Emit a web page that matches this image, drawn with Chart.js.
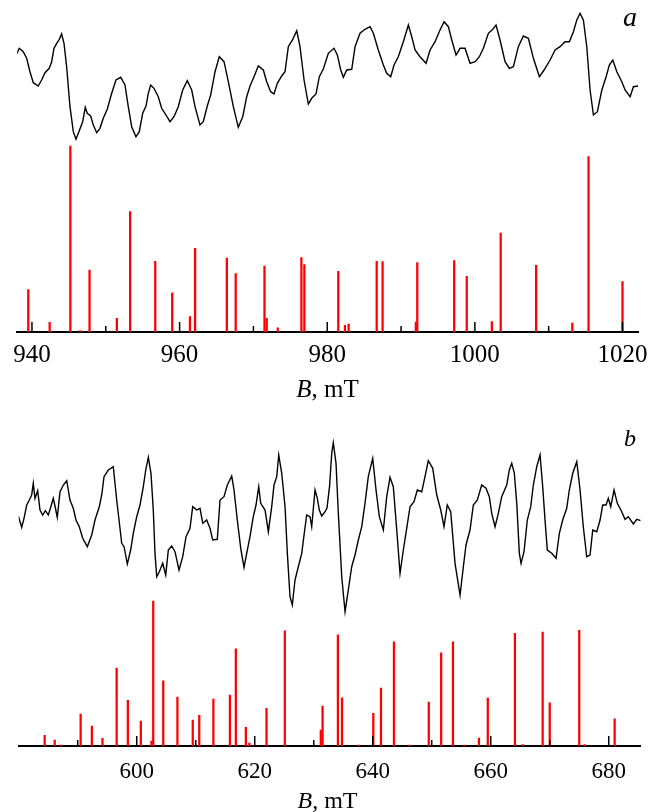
<!DOCTYPE html>
<html><head><meta charset="utf-8">
<script src="https://cdn.jsdelivr.net/npm/chart.js@4.4.1/dist/chart.umd.min.js"></script>
<style>
html,body{margin:0;padding:0;background:#fff;}
#wrap{position:relative;width:655px;height:812px;overflow:hidden;background:#fff;}
canvas{position:absolute;left:0;}
.lbl{position:absolute;font-family:'Liberation Serif','Times New Roman',serif;color:#000;white-space:nowrap;line-height:1;transform:translateX(-50%);}
</style></head><body>
<div id="wrap">
<canvas id="ca" width="655" height="400" style="top:0"></canvas>
<canvas id="cb" width="655" height="412" style="top:400px"></canvas>
<div class="lbl" style="left:630px;top:2.5px;font-size:28px;font-style:italic">a</div>
<div class="lbl" style="left:327.5px;top:375.8px;font-size:25px"><i>B</i>, mT</div>
<div class="lbl" style="left:630px;top:426px;font-size:24px;font-style:italic">b</div>
<div class="lbl" style="left:327.5px;top:788px;font-size:24px"><i>B</i>, mT</div>
</div>
<script>
// ---------- Panel a data ----------
const majorTicksA = [940, 960, 980, 1000, 1020];
const minorTicksA = [950, 970, 990, 1010];
const stickFieldA = [939.5,942.4,945.2,946.5,947.8,951.5,953.3,956.7,959.0,961.4,962.1,966.4,967.6,971.5,971.8,973.3,976.5,976.9,981.5,982.4,982.9,986.7,987.5,992.0,992.2,997.2,998.9,1002.3,1003.5,1008.3,1013.2,1015.4,1020.0];
const stickIntA = [22.8,5.2,100,0.7,33.3,7.4,64.7,38.0,21.0,8.3,45.0,39.8,31.4,35.5,7.4,2.2,40.0,36.2,32.6,3.6,4.3,38.0,37.8,5.4,37.3,38.4,29.9,5.6,53.2,35.9,4.8,94.3,27.1];
const specFieldA = [937.93,938.28,938.82,939.28,939.73,940.18,940.85,941.31,941.76,942.34,942.67,942.98,943.35,943.70,944.02,944.34,944.70,945.15,945.60,945.96,946.41,946.87,947.22,947.49,947.95,948.31,948.77,949.21,949.66,950.20,950.80,951.38,952.02,952.60,953.05,953.51,954.09,954.54,955.00,955.45,955.76,956.08,956.53,957.11,957.57,958.16,958.70,959.24,959.82,960.42,961.04,961.64,962.09,962.76,963.21,963.75,964.21,964.80,965.38,966.02,966.60,967.28,967.95,968.55,969.09,969.54,970.08,970.66,971.34,971.80,972.34,972.79,973.24,973.83,974.28,974.73,975.33,975.87,976.31,976.86,977.44,977.90,978.48,978.93,979.47,980.15,980.92,981.37,981.83,982.18,982.64,983.32,983.77,984.44,985.12,985.80,986.25,986.92,987.60,988.06,988.60,989.05,989.63,990.31,990.99,991.45,991.90,992.57,993.39,993.93,994.61,995.28,995.83,996.41,996.87,997.45,997.99,998.67,999.35,1000.03,1000.61,1001.15,1001.83,1002.43,1002.87,1003.41,1004.09,1004.67,1005.22,1005.89,1006.57,1007.25,1007.93,1008.74,1009.38,1010.19,1010.87,1011.54,1012.22,1012.80,1013.35,1013.81,1014.25,1014.70,1015.16,1015.61,1016.06,1016.60,1017.20,1017.78,1018.22,1018.69,1019.23,1019.91,1020.35,1021.03,1021.48,1022.15];
const specIntA = [26,31.7,28.3,21.7,8.3,-2.7,-6,0,7.3,11.7,18.3,31.7,36.7,40.7,46,36.7,13.3,-26.7,-51.7,-59.3,-50.7,-41.7,-27.3,-33.3,-36,-45,-52.7,-48.3,-38.3,-29.3,-13.3,0,2.7,-5,-26.7,-46.7,-56.7,-51.7,-33.3,-26,-13.3,-5,-8.3,-16.7,-28.3,-35,-41.7,-36.7,-26.7,-10,-0.7,-10,-26.7,-45,-41.7,-26,-15,8.3,23.3,18.3,-1.7,-26.7,-47.3,-36.7,-16.7,-6,3.3,14,10,-1.7,-11.7,-14,-3.3,4,8.3,33.3,40.7,49.3,33.3,0,-24,-18.3,-14,3.3,11,26.7,31.7,25,10,2.7,10,10.7,33.3,46.7,50.7,53.3,46.7,30,15,6.7,3.3,15,23.3,38.3,55,43.3,30,23.3,16.7,30,38.3,50,58.3,53.3,40,25,31.7,31.7,16.7,18.3,23.3,31.7,46.7,50.7,55,40,18.3,11.7,13.3,33.3,44,41.7,21.7,3.3,10,20,30,33.3,38.3,38.3,48.3,60,66.7,60,33.3,-10,-35,-31.7,-10,3.3,15,20,8.3,-1.7,-10,-16.7,-6.7,-6];

// ---------- Panel b data ----------
const majorTicksB = [600, 620, 640, 660, 680];
const minorTicksB = [590, 610, 630, 650, 670];
const stickFieldB = [584.4,586.1,587.2,590.5,592.4,594.2,596.6,598.5,600.7,602.5,602.8,604.5,606.9,609.5,610.6,613.0,615.8,616.8,618.5,619.1,622.0,625.1,631.2,631.5,634.1,634.8,637.6,640.1,641.4,643.6,646.2,649.5,651.6,653.6,655.5,658.0,659.5,664.1,665.4,668.8,670.0,675.0,675.9,681.0];
const stickIntB = [7.4,4.1,0.7,22.1,13.8,5.3,53.8,31.5,17.2,3.4,100,45.0,33.8,17.9,21.2,32.4,35.2,67.1,12.9,2.1,26.0,79.5,11.0,27.6,76.6,33.3,0.7,22.6,40.0,71.9,0.7,30.3,64.3,71.9,0.7,5.5,33.1,77.7,1.0,78.6,29.7,79.8,1.0,18.8];
const specFieldB = [579.93,580.51,580.90,581.36,581.80,582.20,582.47,582.76,583.22,583.61,584.07,584.51,585.02,585.42,585.86,586.15,586.54,587.00,587.56,588.14,588.69,589.25,589.71,590.27,590.85,591.63,592.37,592.93,593.66,594.07,594.46,595.19,596.03,596.61,597.46,597.85,598.41,598.98,599.42,600.00,600.56,601.12,601.53,601.97,602.42,602.81,603.10,603.39,603.83,604.41,604.92,605.36,605.93,606.49,607.17,607.80,608.36,609.03,609.49,610.17,610.73,611.19,611.86,612.42,612.88,613.66,614.12,614.80,615.36,616.10,616.49,617.05,617.63,618.19,618.75,619.20,619.76,620.22,620.68,621.02,621.75,622.31,622.88,623.27,623.73,624.07,624.58,625.14,625.53,625.98,626.37,626.83,627.39,627.97,628.36,628.81,629.37,629.66,630.22,630.61,630.95,631.36,631.92,632.25,632.68,633.05,633.32,633.78,634.17,634.75,635.31,635.86,636.44,637.00,637.56,638.14,638.69,639.25,640.00,640.56,641.12,641.80,642.37,642.93,643.49,644.07,644.63,645.19,645.76,646.32,647.00,647.56,648.31,648.86,649.42,650.17,650.85,651.53,652.08,652.64,653.22,653.95,654.80,655.36,655.81,656.49,657.05,657.73,658.47,659.20,659.76,660.17,660.73,661.29,661.86,662.71,663.15,663.56,664.00,664.41,664.85,665.14,665.64,666.20,666.78,667.22,667.80,668.36,668.81,669.20,669.59,670.34,671.07,671.63,672.20,672.88,673.32,673.90,674.58,675.14,675.69,676.27,676.83,677.29,677.97,678.53,678.98,679.54,679.93,680.34,680.90,681.46,682.20,682.76,683.32,684.17,684.75,685.42];
const specIntB = [11,-0.3,8.7,22,27,32,43.7,28.7,36.3,17,12,16.3,12,19.7,28.7,21,9.7,35.3,42,46.3,27,18.7,7,0.3,-11.3,-19.7,-8,7,20.3,32,50.3,57,60.3,27,-16.3,-19.7,-37,-23,-6.3,10.3,22,40.3,57,69.7,53.7,17,-26.3,-49.7,-44.7,-36.3,-48,-23,-19,-24.7,-43,-29.7,-9.7,-1.3,20.3,17,18.7,3.7,7,-1.3,-13,-12.3,27,30.3,42,51,37,7,-21.3,-40.3,-23,-9.7,10.3,22,40.3,23.7,17,-4.7,20.3,42,50.3,72,53.7,20.3,-26.3,-69.7,-78,-53,-39.7,-26.3,-8,12,10.3,0.3,37,28.7,17,11,15.3,19,40.3,73.7,84.3,63.7,13.7,-49.7,-84.7,-63,-39.7,-28,-13,0.3,23.7,50.3,68.7,37,10.3,-3,30.3,49.7,40.3,-3,-46.3,-23,-1.3,20.3,25.3,37,35.3,50.3,66.3,58.7,32,17,0.3,22,15.3,-36.3,-68,-39.7,-18,-3,22,27,42,38.7,30.3,13.7,0.3,13.7,30.3,42,57,63.7,53.7,23.7,-26.3,-36.3,-24.7,7,20.3,42,60.3,72,40.3,7,-23,-26.3,-31.3,-6.3,7,18.7,37,53.7,65.3,37,0.3,-29.7,-28,-3,-4.7,7,22,22,28.7,20.3,37,23.7,15.3,7.7,10.3,3,7.7,6.3];

function zip(xs, ys) {
  const n = Math.min(xs.length, ys.length), out = [];
  for (let i = 0; i < n; i++) out.push({x: xs[i], y: ys[i]});
  return out;
}

// tick marks drawn inward (upward) from the axis, positioned by the x scale
const innerTicks = {
  id: 'innerTicks',
  afterDraw(chart, args, opts) {
    const s = chart.scales.x, ctx = chart.ctx, y0 = chart.chartArea.bottom;
    ctx.save();
    ctx.strokeStyle = '#000';
    ctx.lineWidth = 1.5;
    const draw = (vals, len) => vals.forEach(v => {
      const x = s.getPixelForValue(v);
      ctx.beginPath(); ctx.moveTo(x, y0); ctx.lineTo(x, y0 - len); ctx.stroke();
    });
    draw(opts.major || [], 10);
    draw(opts.minor || [], 6);
    ctx.restore();
  }
};

function panel(id, p) {
  return new Chart(document.getElementById(id), {
    type: 'bar',
    data: { datasets: [
      { type: 'line', data: zip(p.specB, p.specI), yAxisID: 'y2', borderColor: '#000',
        borderWidth: 1.4, pointRadius: 0, fill: false, tension: 0, order: 0 },
      { type: 'bar', data: zip(p.stickB, p.stickI), yAxisID: 'y', backgroundColor: '#ff0000',
        barThickness: 1.6, borderWidth: 0, order: 1 }
    ]},
    options: {
      responsive: false, animation: false, events: [],
      layout: { padding: p.pad },
      plugins: { legend: {display: false}, tooltip: {enabled: false},
                 innerTicks: { major: p.major, minor: p.minor } },
      scales: {
        x: { type: 'linear', min: p.xmin, max: p.xmax, offset: false, z: 1,
             grid: { display: false, drawTicks: false },
             border: { display: true, color: '#000', width: 2 },
             afterBuildTicks: s => { s.ticks = p.major.map(v => ({value: v})); },
             ticks: { color: '#000', padding: 0, maxRotation: 0, autoSkip: false,
                      callback: v => String(v),
                      font: { family: "'Liberation Serif', 'Times New Roman', serif", size: p.fs, lineHeight: p.lh } } },
        y: { display: false, min: 0, max: p.ymax },
        y2: { display: false, min: p.y2min, max: p.y2max }
      }
    },
    plugins: [innerTicks]
  });
}

panel('ca', { specB: specFieldA, specI: specIntA, stickB: stickFieldA, stickI: stickIntA,
  major: majorTicksA, minor: minorTicksA, xmin: 938, xmax: 1022.1,
  pad: {left: 17.2, right: 17, top: 0, bottom: 21.4}, fs: 25, lh: 1.864,
  ymax: 178.5, y2min: -252, y2max: 80 });

panel('cb', { specB: specFieldB, specI: specIntB, stickB: stickFieldB, stickI: stickIntB,
  major: majorTicksB, minor: minorTicksB, xmin: 580, xmax: 685.4,
  pad: {left: 18.7, right: 14.4, top: 0, bottom: 14}, fs: 23, lh: 2.26,
  ymax: 238.6, y2min: -219, y2max: 127 });
</script>
</body></html>
